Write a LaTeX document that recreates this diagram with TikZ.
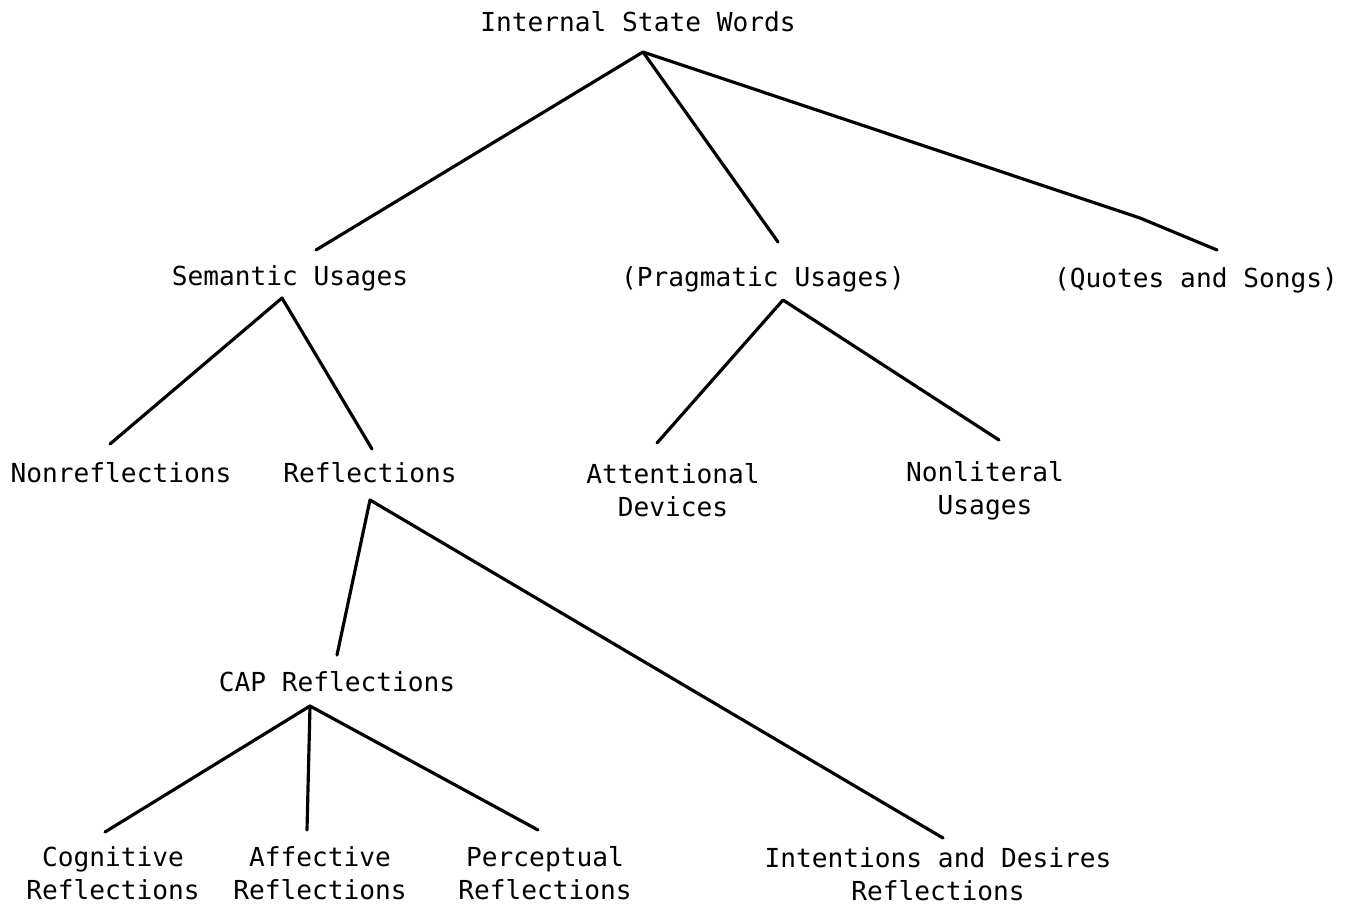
\documentclass[tikz,border=0pt]{standalone}
\usepackage{fontspec}
\setmonofont{DejaVu Sans Mono}
\begin{document}
\begin{tikzpicture}[x=0.02cm,y=-0.02cm,
  lbl/.style={font=\ttfamily\fontsize{14.9}{18.5}\selectfont,inner sep=0pt,align=center},
  edge/.style={line width=1.8pt,line cap=round,line join=round}]
\useasboundingbox (0,0) rectangle (1372,907);
\node[lbl] (isw) at (638,22) {Internal State Words};
\node[lbl] (sem) at (290,278) {Semantic Usages};
\node[lbl] (prag) at (763,279) {(Pragmatic Usages)};
\node[lbl] (quot) at (1196,280) {(Quotes and Songs)};
\node[lbl] (nonr) at (121,473) {Nonreflections};
\node[lbl] (refl) at (370,473) {Reflections};
\node[lbl] (att) at (673,490) {Attentional\\Devices};
\node[lbl] (nonl) at (985,491) {Nonliteral\\Usages};
\node[lbl] (cap) at (337,682) {CAP Reflections};
\node[lbl] (cog) at (113,873) {Cognitive\\Reflections};
\node[lbl] (aff) at (320,873) {Affective\\Reflections};
\node[lbl] (perc) at (545,873) {Perceptual\\Reflections};
\node[lbl] (intd) at (938,874) {Intentions and Desires\\Reflections};
% connector end points
\coordinate (isw-b) at (643,52);
\coordinate (sem-t) at (316,250);
\coordinate (prag-t) at (778,242);
\coordinate (quot-k) at (1140,218);
\coordinate (quot-t) at (1217,250);
\coordinate (sem-b) at (282,298);
\coordinate (nonr-t) at (110,444);
\coordinate (refl-t) at (372,449);
\coordinate (prag-b) at (783,300);
\coordinate (att-t) at (657,443);
\coordinate (nonl-t) at (999,440);
\coordinate (refl-b) at (370,500);
\coordinate (cap-t) at (337,655);
\coordinate (intd-t) at (943,838);
\coordinate (cap-b) at (310,706);
\coordinate (cog-t) at (105,832);
\coordinate (aff-t) at (307,830);
\coordinate (perc-t) at (538,830);
\draw[edge] (sem-t) -- (isw-b) -- (prag-t);
\draw[edge] (isw-b) -- (quot-k) -- (quot-t);
\draw[edge] (nonr-t) -- (sem-b) -- (refl-t);
\draw[edge] (att-t) -- (prag-b) -- (nonl-t);
\draw[edge] (cap-t) -- (refl-b) -- (intd-t);
\draw[edge] (cog-t) -- (cap-b) -- (perc-t);
\draw[edge] (cap-b) -- (aff-t);
\end{tikzpicture}
\end{document}
